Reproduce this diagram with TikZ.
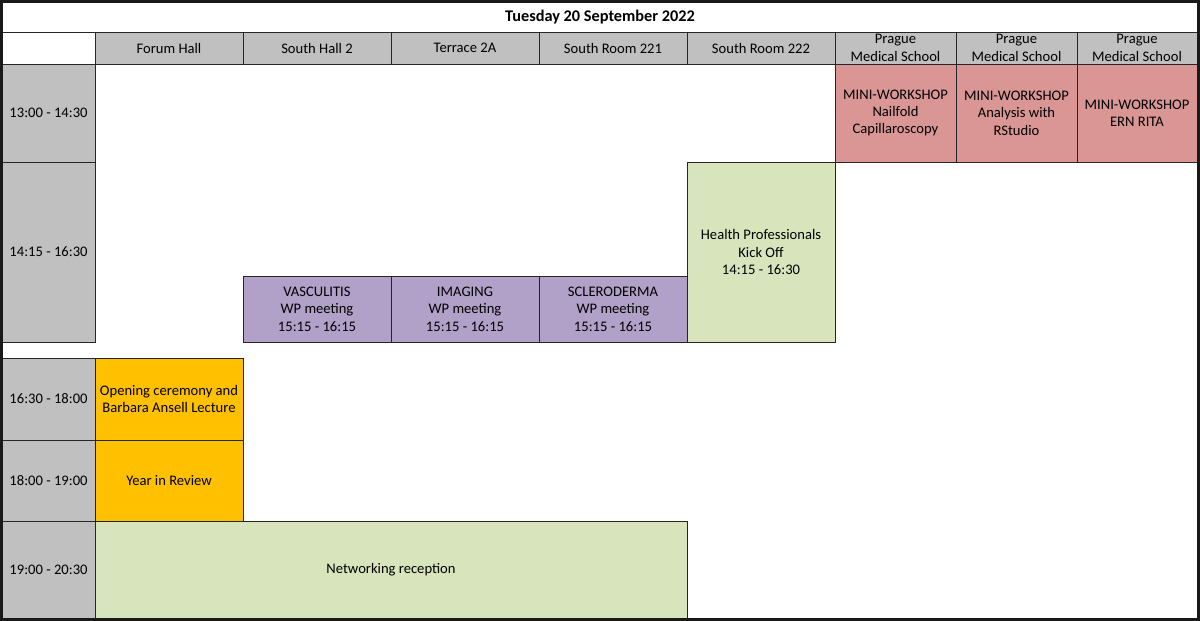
\documentclass[tikz,border=0pt]{standalone}
\usepackage{fontspec}
\setmainfont{Carlito}
\begin{document}
\begin{tikzpicture}[x=1pt,y=-1pt,
  cell/.style={draw=black!85, line width=0.9pt, inner sep=0pt, outer sep=0pt, align=center,
    font=\fontsize{14.6}{17.4}\selectfont, text=black},
  hdr/.style={cell, fill=hdrgray},
  tim/.style={cell, fill=hdrgray},
  red/.style={cell, fill=wsred},
  pur/.style={cell, fill=wppurple},
  grn/.style={cell, fill=hpgreen},
  org/.style={cell, fill=ceremony}]
\definecolor{hdrgray}{HTML}{C0C0C0}
\definecolor{wsred}{HTML}{DA9694}
\definecolor{wppurple}{HTML}{B1A0C7}
\definecolor{hpgreen}{HTML}{D8E4BC}
\definecolor{ceremony}{HTML}{FFC000}
\useasboundingbox (0,0) rectangle (1200,621);
\fill[white] (0,0) rectangle (1200,621);
% title
\node[font=\fontsize{16.3}{19}\selectfont\bfseries] (title) at (600,17) {Tuesday 20 September 2022};
% header row
\node[cell, minimum width=93, minimum height=32] (corner) at (48.5,48) {};
\node[hdr, minimum width=148, minimum height=32] (h1) at (169,48) {Forum Hall};
\node[hdr, minimum width=148, minimum height=32] (h2) at (317,48) {South Hall 2};
\node[hdr, minimum width=148, minimum height=32] (h3) at (465,48) {Terrace 2A};
\node[hdr, minimum width=148, minimum height=32] (h4) at (613,48) {South Room 221};
\node[hdr, minimum width=148, minimum height=32] (h5) at (761,48) {South Room 222};
\node[hdr, minimum width=121, minimum height=32] (h6) at (895.5,48) {Prague\\Medical School};
\node[hdr, minimum width=121, minimum height=32] (h7) at (1016.5,48) {Prague\\Medical School};
\node[hdr, minimum width=120, minimum height=32] (h8) at (1137,48) {Prague\\Medical School};
% time cells
\node[tim, minimum width=93, minimum height=98] (t1) at (48.5,113) {13:00 - 14:30};
\node[tim, minimum width=93, minimum height=180] (t2) at (48.5,252) {14:15 - 16:30};
\node[tim, minimum width=93, minimum height=82] (t3) at (48.5,399) {16:30 - 18:00};
\node[tim, minimum width=93, minimum height=81] (t4) at (48.5,480.5) {18:00 - 19:00};
\node[tim, minimum width=93, minimum height=97] (t5) at (48.5,569.5) {19:00 - 20:30};
% workshops
\node[red, minimum width=121, minimum height=98] (w1) at (895.5,113) {MINI-WORKSHOP\\Nailfold\\Capillaroscopy};
\node[red, minimum width=121, minimum height=98] (w2) at (1016.5,113) {MINI-WORKSHOP\\Analysis with\\RStudio};
\node[red, minimum width=120, minimum height=98] (w3) at (1137,113) {MINI-WORKSHOP\\ERN RITA};
% WP meetings
\node[pur, minimum width=148, minimum height=66] (p1) at (317,309) {VASCULITIS\\WP meeting\\15:15 - 16:15};
\node[pur, minimum width=148, minimum height=66] (p2) at (465,309) {IMAGING\\WP meeting\\15:15 - 16:15};
\node[pur, minimum width=148, minimum height=66] (p3) at (613,309) {SCLERODERMA\\WP meeting\\15:15 - 16:15};
\node[grn, minimum width=148, minimum height=180] (hp) at (761,252) {Health Professionals\\Kick Off\\14:15 - 16:30};
% evening
\node[org, minimum width=148, minimum height=82] (oc) at (169,399) {Opening ceremony and\\Barbara Ansell Lecture};
\node[org, minimum width=148, minimum height=81] (yr) at (169,480.5) {Year in Review};
\node[grn, minimum width=592, minimum height=97] (nr) at (391,569.5) {Networking reception};
% outer frame
\draw[line width=2.6pt, black!90] (1.3,1.3) rectangle (1198.3,619.3);
\end{tikzpicture}
\end{document}
